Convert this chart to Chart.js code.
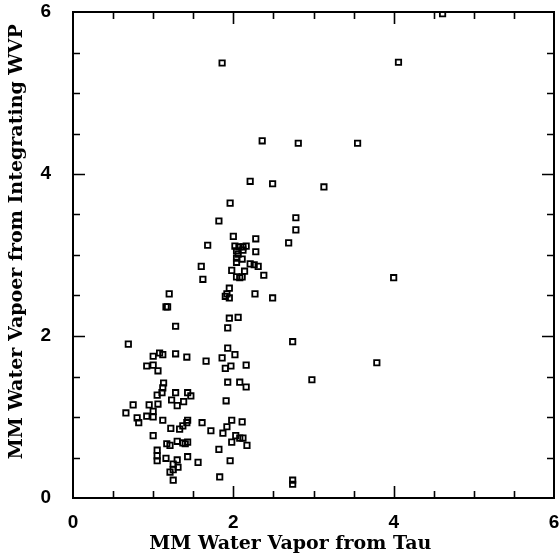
<!DOCTYPE html>
<html><head><meta charset="utf-8">
<script src="https://cdn.jsdelivr.net/npm/chart.js"></script>
<style>html,body{margin:0;padding:0;background:#fff}#wrap{width:560px;height:560px}</style>
</head><body><div id="wrap"><canvas id="c" width="560" height="560"></canvas></div>
<script>
// Tau-derived water vapour (mm)
const tauWV = [4.61,4.06,1.86,2.36,2.81,3.55,2.21,2.49,3.13,1.96,1.82,2.78,2.78,2.00,2.28,2.69,1.68,2.02,2.07,2.12,2.16,2.12,2.04,2.06,2.28,2.04,2.11,2.04,2.21,2.26,2.31,1.60,1.98,2.14,2.38,4.00,1.62,2.04,2.08,2.11,1.95,1.90,1.92,1.95,2.27,2.49,1.20,1.16,1.18,1.28,1.95,2.06,1.93,2.74,0.69,1.93,1.00,1.08,1.12,1.28,1.42,1.66,1.86,2.02,1.97,1.90,2.16,3.79,0.92,1.00,1.06,2.98,1.93,2.08,2.16,1.13,1.12,1.11,1.05,1.28,1.23,1.30,1.38,1.43,1.47,1.91,0.75,0.66,0.95,1.06,1.00,0.92,1.00,0.80,0.82,1.12,1.00,1.05,1.05,1.05,1.22,1.33,1.37,1.42,1.43,1.61,1.72,1.87,1.92,1.98,2.11,1.98,2.03,2.08,2.12,2.17,1.82,1.17,1.21,1.30,1.37,1.40,1.43,1.96,1.16,1.25,1.30,1.31,1.25,1.21,1.25,1.43,1.56,1.83,2.74,2.74];
// Integrated WVP water vapour (mm)
const wvpWV = [5.98,5.38,5.37,4.41,4.38,4.38,3.91,3.88,3.84,3.64,3.42,3.46,3.31,3.23,3.20,3.15,3.12,3.11,3.10,3.10,3.11,3.06,3.05,3.01,3.04,2.96,2.95,2.91,2.89,2.88,2.86,2.86,2.81,2.80,2.75,2.72,2.70,2.73,2.72,2.73,2.59,2.49,2.52,2.47,2.52,2.47,2.52,2.36,2.36,2.12,2.22,2.23,2.10,1.93,1.90,1.85,1.75,1.79,1.77,1.78,1.74,1.69,1.73,1.77,1.63,1.60,1.64,1.67,1.63,1.64,1.57,1.46,1.43,1.43,1.37,1.42,1.36,1.30,1.27,1.30,1.21,1.14,1.19,1.30,1.26,1.20,1.15,1.05,1.15,1.16,1.07,1.01,1.00,0.99,0.93,0.96,0.77,0.59,0.52,0.46,0.86,0.85,0.89,0.93,0.96,0.93,0.83,0.80,0.88,0.96,0.94,0.69,0.77,0.74,0.74,0.65,0.60,0.67,0.65,0.70,0.68,0.67,0.69,0.46,0.49,0.42,0.47,0.38,0.35,0.32,0.22,0.51,0.44,0.26,0.22,0.17];
const xTitle = 'MM Water Vapor from Tau';
const yTitle = 'MM Water Vapoer from Integrating WVP';
const axisMin = 0, axisMax = 6, tickStep = 0.5, labelStep = 2;

const points = tauWV.map((x, i) => ({x: x, y: wvpWV[i]}));

const frameTicks = {
  id: 'frameTicks',
  afterDraw(chart) {
    const {ctx, chartArea: a, scales} = chart;
    ctx.save();
    ctx.strokeStyle = '#000';
    ctx.lineWidth = 1.6;
    const xs = scales.x, ys = scales.y;
    xs.ticks.forEach(t => {
      if (t.value <= axisMin || t.value >= axisMax) return;
      const p = Math.round(xs.getPixelForValue(t.value)) + 0.5;
      const len = (t.value % labelStep === 0) ? 12 : 7;
      ctx.beginPath();
      ctx.moveTo(p, a.bottom); ctx.lineTo(p, a.bottom - len);
      ctx.moveTo(p, a.top); ctx.lineTo(p, a.top + len);
      ctx.stroke();
    });
    ys.ticks.forEach(t => {
      if (t.value <= axisMin || t.value >= axisMax) return;
      const p = Math.round(ys.getPixelForValue(t.value)) + 0.5;
      const len = (t.value % labelStep === 0) ? 12 : 7;
      ctx.beginPath();
      ctx.moveTo(a.left, p); ctx.lineTo(a.left + len, p);
      ctx.moveTo(a.right, p); ctx.lineTo(a.right - len, p);
      ctx.stroke();
    });
    ctx.lineWidth = 2;
    ctx.strokeRect(a.left, a.top, a.right - a.left, a.bottom - a.top);
    ctx.restore();
  }
};

const tickFont = {family: '"Liberation Sans", Arial, sans-serif', size: 19, weight: 'bold'};
const titleFont = {family: '"DejaVu Serif", serif', size: 19, weight: 'bold'};

new Chart(document.getElementById('c'), {
  type: 'scatter',
  data: {datasets: [{
    data: points,
    pointStyle: 'rect',
    pointRadius: 3.8,
    pointHoverRadius: 3.8,
    borderWidth: 1.8,
    borderColor: '#000',
    backgroundColor: 'rgba(0,0,0,0)'
  }]},
  options: {
    responsive: false,
    animation: false,
    devicePixelRatio: 1,
    layout: {padding: {top: 12, right: 6, left: 0, bottom: 0}},
    plugins: {legend: {display: false}, tooltip: {enabled: false}},
    scales: {
      x: {
        type: 'linear', min: axisMin, max: axisMax,
        grid: {display: false},
        border: {display: false},
        ticks: {stepSize: tickStep, autoSkip: false, maxRotation: 0, color: '#000', font: tickFont, padding: 5,
          callback: v => (v % labelStep === 0 ? String(v) : '')},
        title: {display: true, text: xTitle + '       ', color: '#000', font: titleFont, padding: {top: 0, bottom: 5}},
        afterFit: s => { s.height = 62; s.paddingLeft = 0; s.paddingRight = 0; }
      },
      y: {
        type: 'linear', min: axisMin, max: axisMax,
        grid: {display: false},
        border: {display: false},
        ticks: {stepSize: tickStep, autoSkip: false, color: '#000', font: tickFont, padding: 14,
          callback: v => (v % labelStep === 0 ? String(v) : '')},
        title: {display: true, text: '    ' + yTitle, color: '#000', font: titleFont, padding: {top: 6, bottom: 0}},
        afterFit: s => { s.width = 73; s.paddingTop = 0; s.paddingBottom = 0; }
      }
    }
  },
  plugins: [frameTicks]
});
</script></body></html>
